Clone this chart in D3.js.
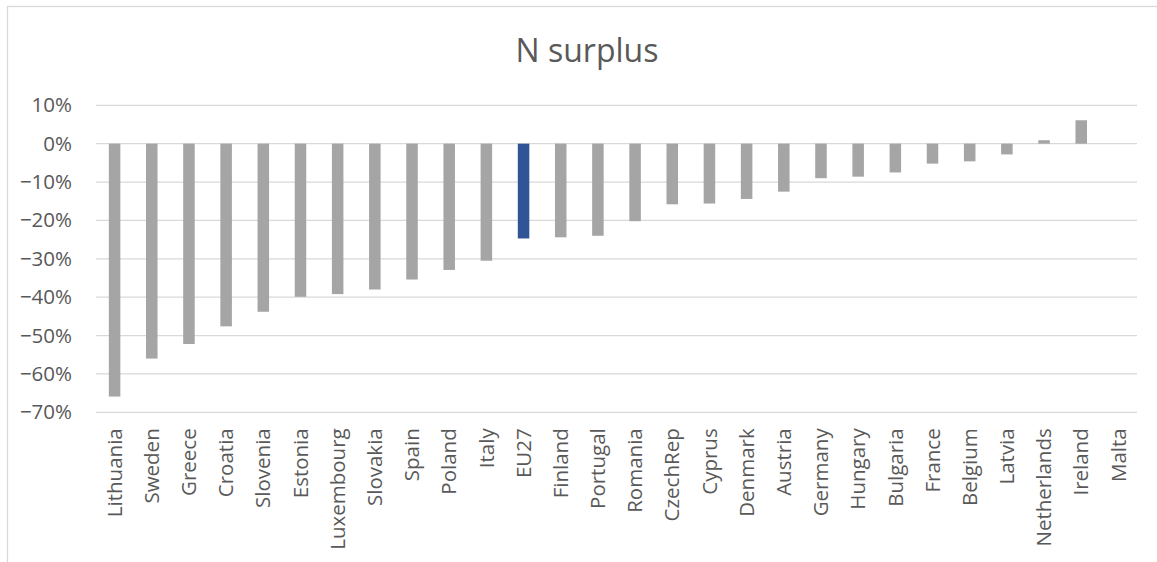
<!DOCTYPE html>
<html>
<head>
<meta charset="utf-8">
<script src="https://cdn.jsdelivr.net/npm/d3@7"></script>
<style>
  html, body { margin: 0; padding: 0; background: #fff; }
  svg { display: block; }
  text { font-family: "Open Sans", sans-serif; fill: #595959; }
</style>
</head>
<body>
<svg id="chart" width="1157" height="562"></svg>
<script>
// N surplus change by country (share), sorted from largest reduction
const countries = ["Lithuania", "Sweden", "Greece", "Croatia", "Slovenia", "Estonia",
  "Luxembourg", "Slovakia", "Spain", "Poland", "Italy", "EU27", "Finland", "Portugal",
  "Romania", "CzechRep", "Cyprus", "Denmark", "Austria", "Germany", "Hungary", "Bulgaria",
  "France", "Belgium", "Latvia", "Netherlands", "Ireland", "Malta"];
const surplus = [-0.659, -0.560, -0.522, -0.476, -0.438, -0.399, -0.392, -0.380, -0.354,
  -0.329, -0.305, -0.247, -0.244, -0.240, -0.202, -0.158, -0.156, -0.144, -0.125,
  -0.090, -0.086, -0.075, -0.052, -0.046, -0.028, 0.009, 0.061, 0.0];
const yTicks = [0.1, 0.0, -0.1, -0.2, -0.3, -0.4, -0.5, -0.6, -0.7];
const highlight = "EU27";
const title = "N surplus";

const svg = d3.select("#chart");
const plot = { left: 96, right: 1137, top: 105.3, bottom: 412.3 };

// chart area frame
svg.append("rect")
  .attr("x", 7.5).attr("y", 6.5)
  .attr("width", 1170).attr("height", 580)
  .attr("fill", "#fff").attr("stroke", "#D9D9D9").attr("stroke-width", 1.3);

const x = d3.scaleBand()
  .domain(countries)
  .range([plot.left, plot.right])
  .paddingInner(0.69)
  .paddingOuter(0.345);

const y = d3.scaleLinear()
  .domain([-0.7, 0.1])
  .range([plot.bottom, plot.top]);

// horizontal gridlines
svg.append("g")
  .selectAll("line")
  .data(yTicks)
  .join("line")
  .attr("x1", plot.left).attr("x2", plot.right)
  .attr("y1", d => y(d)).attr("y2", d => y(d))
  .attr("stroke", "#D9D9D9").attr("stroke-width", 1.3);

// y axis labels
const yAxis = d3.axisLeft(y)
  .tickValues(yTicks)
  .tickFormat(d3.format(".0%"))
  .tickSize(0)
  .tickPadding(0);
svg.append("g")
  .attr("transform", `translate(${plot.left - 24},0)`)
  .call(yAxis)
  .call(g => g.select(".domain").remove())
  .call(g => g.selectAll("text")
    .attr("font-size", 20.5)
    .style("font-family", "'Open Sans', sans-serif")
    .attr("fill", "#595959"));

// bars
svg.append("g")
  .selectAll("rect")
  .data(countries.map((c, i) => ({ c, v: surplus[i] })))
  .join("rect")
  .attr("x", d => x(d.c))
  .attr("width", x.bandwidth())
  .attr("y", d => y(Math.max(0, d.v)))
  .attr("height", d => Math.abs(y(d.v) - y(0)))
  .attr("fill", d => d.c === highlight ? "#2F5597" : "#A5A5A5");

// category labels, rotated
const xAxis = d3.axisBottom(x).tickSize(0).tickPadding(0);
svg.append("g")
  .attr("transform", `translate(0,${plot.bottom})`)
  .call(xAxis)
  .call(g => g.select(".domain").remove())
  .call(g => g.selectAll("text")
    .attr("font-size", 20.5)
    .style("font-family", "'Open Sans', sans-serif")
    .attr("fill", "#595959")
    .attr("transform", "rotate(-90)")
    .attr("text-anchor", "end")
    .attr("x", -16)
    .attr("y", 0)
    .attr("dy", "0.35em"));

// title
svg.append("text")
  .attr("x", 587).attr("y", 62)
  .attr("text-anchor", "middle")
  .attr("font-size", 32)
  .text(title);
</script>
</body>
</html>
